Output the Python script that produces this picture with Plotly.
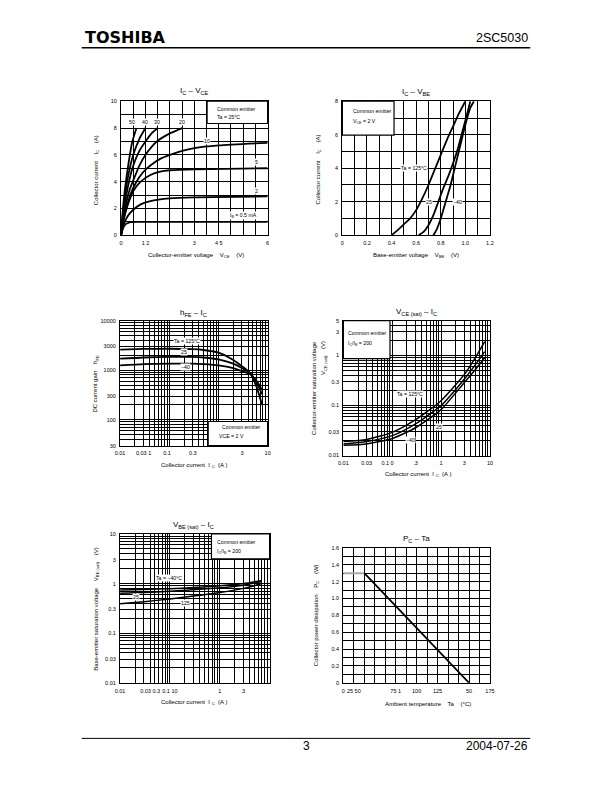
import numpy as np
import plotly.graph_objects as go

W, H = 612, 792

# ---------------- Chart 1: IC - VCE (Ta = 25 C) ----------------
vce_ib05 = [0, 0.05, 0.1, 0.2, 0.3, 0.4, 0.6, 1.0, 2, 4, 6]
ic_ib05 = [0, 0.35, 0.6, 0.85, 0.93, 0.97, 0.99, 1.0, 1.0, 1.0, 1.0]
vce_ib2 = [0, 0.05, 0.15, 0.3, 0.5, 0.8, 1.2, 2, 3, 6]
ic_ib2 = [0, 0.4, 1.0, 1.5, 1.9, 2.3, 2.55, 2.75, 2.83, 2.9]
vce_ib5 = [0, 0.05, 0.15, 0.3, 0.5, 0.8, 1.2, 1.6, 2, 3, 6]
ic_ib5 = [0, 0.6, 1.5, 2.4, 3.3, 4.0, 4.5, 4.75, 4.85, 4.92, 5.0]
vce_ib10 = [0, 0.05, 0.2, 0.4, 0.6, 0.9, 1.2, 1.6, 2, 2.5, 3, 4, 6]
ic_ib10 = [0, 0.7, 1.9, 3.1, 3.9, 4.7, 5.2, 5.7, 6.0, 6.3, 6.5, 6.7, 6.9]
vce_ib20 = [0, 0.05, 0.2, 0.35, 0.5, 0.75, 1.0, 1.25, 1.5, 2.0, 2.5]
ic_ib20 = [0, 0.8, 2.3, 3.4, 4.1, 5.2, 6.0, 6.6, 7.05, 7.6, 8.0]
vce_ib30 = [0, 0.05, 0.15, 0.3, 0.5, 0.75, 1.0, 1.25, 1.5]
ic_ib30 = [0, 1.0, 2.3, 3.8, 5.2, 6.3, 7.0, 7.6, 8.0]
vce_ib40 = [0, 0.05, 0.15, 0.3, 0.5, 0.75, 1.0]
ic_ib40 = [0, 1.2, 2.8, 4.5, 6.0, 7.2, 8.0]
vce_ib50 = [0, 0.05, 0.15, 0.3, 0.45, 0.63]
ic_ib50 = [0, 1.4, 3.3, 5.3, 6.9, 8.0]
c1_xtick_pos = [0, 1.0, 3, 4.0, 6]
c1_xtick_txt = ["0", "1 2", "3", "4 5", "6"]
c1_ytick_pos = [0, 2, 4, 6, 8, 10]
c1_ytick_txt = ["0", "2", "4", "6", "8", "10"]

# ---------------- Chart 2: IC - VBE (VCE = 2 V) ----------------
vbe_125 = [0.40, 0.45, 0.50, 0.55, 0.60, 0.65, 0.70, 0.75, 0.80, 0.85, 0.90, 0.95, 1.00]
ic_125 = [0, 0.3, 0.65, 1.0, 1.5, 2.2, 3.0, 3.9, 4.8, 5.7, 6.5, 7.3, 8.0]
vbe_25 = [0.62, 0.66, 0.70, 0.74, 0.78, 0.82, 0.86, 0.90, 0.94, 0.98, 1.02, 1.04]
ic_25 = [0, 0.2, 0.6, 1.2, 2.0, 2.8, 3.5, 4.3, 5.2, 6.3, 7.4, 8.0]
vbe_m40 = [0.74, 0.77, 0.80, 0.84, 0.88, 0.92, 0.96, 1.00, 1.04, 1.07]
ic_m40 = [0, 0.4, 1.0, 2.0, 3.0, 4.2, 5.4, 6.6, 7.6, 8.0]
c2_xtick_pos = [0, 0.2, 0.4, 0.6, 0.8, 1.0, 1.2]
c2_xtick_txt = ["0", "0.2", "0.4", "0.6", "0.8", "1.0", "1.2"]
c2_ytick_pos = [0, 2, 4, 6, 8]
c2_ytick_txt = ["0", "2", "4", "6", "8"]

# ---------------- Chart 3: hFE - IC (VCE = 2 V) ----------------
ic_hfe = [0.01, 0.03, 0.1, 0.3, 0.5, 1, 2, 3, 4.5, 6, 7.7]
hfe_125 = [2600, 2680, 2700, 2650, 2550, 2250, 1600, 1200, 850, 450, 200]
hfe_25 = [1700, 1800, 1850, 1850, 1800, 1650, 1350, 1100, 850, 550, 330]
hfe_m40 = [1250, 1320, 1350, 1350, 1320, 1250, 1100, 950, 820, 600, 400]
c3_xtick_pos = [0.01, 0.03, 0.09, 0.3, 3, 10]
c3_xtick_txt = ["0.01", "0.03 1", "0.1", "0.3", "3", "10"]
c3_ytick_pos = [30, 100, 300, 1000, 3000, 10000]
c3_ytick_txt = ["30", "100", "300", "1000", "3000", "10000"]

# ---------------- Chart 4: VCE(sat) - IC (IC/IB = 200) ----------------
ic_vcesat = [0.01, 0.03, 0.1, 0.3, 1, 3, 5, 7.8]
vcesat_125 = [0.019, 0.021, 0.029, 0.052, 0.125, 0.42, 0.9, 1.9]
vcesat_25 = [0.017, 0.019, 0.025, 0.043, 0.10, 0.34, 0.65, 1.2]
vcesat_m40 = [0.016, 0.017, 0.022, 0.036, 0.083, 0.29, 0.52, 0.9]
c4_xtick_pos = [0.01, 0.03, 0.08, 0.3, 1, 3, 10]
c4_xtick_txt = ["0.01", "0.03", "0.1 0", ".3", "1", "3", "10"]
c4_ytick_pos = [0.01, 0.03, 0.1, 0.3, 1, 3, 5]
c4_ytick_txt = ["0.01", "0.03", "0.1", "0.3", "1", "3", "5"]

# ---------------- Chart 5: VBE(sat) - IC (IC/IB = 200) ----------------
ic_vbesat = [0.01, 0.03, 0.1, 0.3, 1, 3, 7]
vbesat_m40 = [0.74, 0.76, 0.79, 0.83, 0.90, 1.0, 1.16]
vbesat_25 = [0.64, 0.66, 0.70, 0.75, 0.82, 0.93, 1.1]
vbesat_125 = [0.39, 0.43, 0.49, 0.56, 0.66, 0.80, 1.0]
c5_xtick_pos = [0.01, 0.04, 0.1, 1, 3]
c5_xtick_txt = ["0.01", "0.03 0.3", "0.1 10", "1", "3"]
c5_ytick_pos = [0.01, 0.03, 0.1, 0.3, 1, 3, 10]
c5_ytick_txt = ["0.01", "0.03", "0.1", "0.3", "1", "3", "10"]

# ---------------- Chart 6: PC - Ta ----------------
ta_flat = [0, 25]
pc_flat = [1.3, 1.3]
ta_derate = [25, 150]
pc_derate = [1.3, 0]
c6_xtick_pos = [0, 12.5, 62.5, 87.5, 112.5, 150, 175]
c6_xtick_txt = ["0", "25 50", "75 1", "100", "125", "50", "175"]
c6_ytick_pos = [0, 0.2, 0.4, 0.6, 0.8, 1.0, 1.2, 1.4, 1.6]
c6_ytick_txt = ["0", "0.2", "0.4", "0.6", "0.8", "1.0", "1.2", "1.4", "1.6"]

# ================= layout helpers =================
FONT = "Liberation Sans, Arial, sans-serif"
TICKF = dict(family=FONT, size=5.5, color="black")


def sfx(n):
    return "" if str(n) == "1" else str(n)


def px_dom_x(a, b):
    return [a / W, b / W]


def px_dom_y(top, bottom):
    return [1 - bottom / H, 1 - top / H]


def lin_grid(lo, hi, step):
    n = int(round((hi - lo) / step))
    return [round(lo + i * step, 6) for i in range(n + 1)]


def log_grid(lo, hi):
    vals = []
    for e in range(-3, 5):
        for k in range(1, 10):
            v = k * 10.0 ** e
            if lo * 0.9999 <= v <= hi * 1.0001:
                vals.append(v)
    return vals


def axis(dom, grid, pos, txt, log=False, rng=None):
    d = dict(domain=dom, showline=True, mirror=True, linecolor="black", linewidth=1.3,
             showgrid=True, gridcolor="black", gridwidth=1, zeroline=False,
             ticks="", tickmode="array", tickvals=pos, ticktext=txt, tickfont=TICKF,
             minor=dict(tickmode="array", tickvals=grid, showgrid=True,
                        gridcolor="black", gridwidth=1, ticks=""),
             fixedrange=True, ticklabelstandoff=2)
    if log:
        d["type"] = "log"
        d["range"] = [np.log10(rng[0]), np.log10(rng[1])]
    else:
        d["range"] = rng
    return d


fig = go.Figure()


def add(x, y, n, width=1.8, color="black", shape="spline"):
    line = dict(color=color, width=width, shape=shape)
    if shape == "spline":
        line["smoothing"] = 0.6
    fig.add_trace(go.Scatter(x=x, y=y, mode="lines", xaxis="x" + sfx(n), yaxis="y" + sfx(n),
                             line=line, showlegend=False, hoverinfo="skip"))


# chart 1
for xs, ys in [(vce_ib05, ic_ib05), (vce_ib2, ic_ib2), (vce_ib5, ic_ib5), (vce_ib10, ic_ib10),
               (vce_ib20, ic_ib20), (vce_ib30, ic_ib30), (vce_ib40, ic_ib40), (vce_ib50, ic_ib50)]:
    add(xs, ys, "1")
# chart 2
for xs, ys in [(vbe_125, ic_125), (vbe_25, ic_25), (vbe_m40, ic_m40)]:
    add(xs, ys, "2")
# chart 3
for ys in [hfe_125, hfe_25, hfe_m40]:
    add(ic_hfe, ys, "3")
# chart 4
for ys in [vcesat_125, vcesat_25, vcesat_m40]:
    add(ic_vcesat, ys, "4", width=1.5)
# chart 5
for ys in [vbesat_m40, vbesat_25, vbesat_125]:
    add(ic_vbesat, ys, "5", width=1.5)
# chart 6
add(ta_flat, pc_flat, "6", width=2, color="#a8a8a8", shape="linear")
add(ta_derate, pc_derate, "6", width=1.8, shape="linear")

g1x, g1y = lin_grid(0, 6, 0.5), lin_grid(0, 10, 1)
g2x, g2y = lin_grid(0, 1.2, 0.1), lin_grid(0, 8, 1)
g3x, g3y = log_grid(0.01, 10), log_grid(30, 10000)
g4x, g4y = log_grid(0.01, 10), log_grid(0.01, 5)
g5x, g5y = log_grid(0.01, 10), log_grid(0.01, 10)
g6x, g6y = lin_grid(0, 175, 12.5), lin_grid(0, 1.6, 0.1)

layout = dict(
    width=W, height=H, margin=dict(l=0, r=0, t=0, b=0),
    paper_bgcolor="white", plot_bgcolor="white", showlegend=False,
    font=dict(family=FONT, color="black"),
    xaxis=axis(px_dom_x(118, 267), g1x, c1_xtick_pos, c1_xtick_txt, rng=[0, 6]),
    yaxis=axis(px_dom_y(99, 234), g1y, c1_ytick_pos, c1_ytick_txt, rng=[0, 10]),
    xaxis2=axis(px_dom_x(343, 493), g2x, c2_xtick_pos, c2_xtick_txt, rng=[0, 1.2]),
    yaxis2=axis(px_dom_y(99, 234), g2y, c2_ytick_pos, c2_ytick_txt, rng=[0, 8]),
    xaxis3=axis(px_dom_x(117, 267), g3x, c3_xtick_pos, c3_xtick_txt, log=True, rng=[0.01, 10]),
    yaxis3=axis(px_dom_y(320, 446), g3y, c3_ytick_pos, c3_ytick_txt, log=True, rng=[30, 10000]),
    xaxis4=axis(px_dom_x(344, 493), g4x, c4_xtick_pos, c4_xtick_txt, log=True, rng=[0.01, 10]),
    yaxis4=axis(px_dom_y(320, 456), g4y, c4_ytick_pos, c4_ytick_txt, log=True, rng=[0.01, 5]),
    xaxis5=axis(px_dom_x(117, 269), g5x, c5_xtick_pos, c5_xtick_txt, log=True, rng=[0.01, 10]),
    yaxis5=axis(px_dom_y(535, 685), g5y, c5_ytick_pos, c5_ytick_txt, log=True, rng=[0.01, 10]),
    xaxis6=axis(px_dom_x(344, 493), g6x, c6_xtick_pos, c6_xtick_txt, rng=[0, 175]),
    yaxis6=axis(px_dom_y(549, 685), g6y, c6_ytick_pos, c6_ytick_txt, rng=[0, 1.6]),
)
for i in range(1, 7):
    xk = "xaxis" + sfx(i)
    yk = "yaxis" + sfx(i)
    layout[xk]["anchor"] = "y" + sfx(i)
    layout[yk]["anchor"] = "x" + sfx(i)
fig.update_layout(**layout)

ann = []
shapes = []


def ptext(x, y, text, size=6, angle=0, xanchor="center", family=FONT):
    ann.append(dict(x=x / W, y=1 - y / H, xref="paper", yref="paper", text=text,
                    showarrow=False, textangle=angle, xanchor=xanchor, yanchor="middle",
                    font=dict(family=family, size=size, color="black")))


def dtext(n, x, y, text, size=5.2, bg="white"):
    ann.append(dict(x=x, y=y, xref="x" + sfx(n), yref="y" + sfx(n), text=text, showarrow=False,
                    xanchor="center", yanchor="middle", bgcolor=bg, borderpad=0,
                    font=dict(family=FONT, size=size, color="black")))


def dom_text(n, x, y, text, size=5.2):
    ann.append(dict(x=x, y=y, xref="x%s domain" % sfx(n), yref="y%s domain" % sfx(n), text=text,
                    showarrow=False, xanchor="left", yanchor="middle",
                    font=dict(family=FONT, size=size, color="black")))


def box(n, x0, y0, x1, y1):
    shapes.append(dict(type="rect", xref="x%s domain" % sfx(n), yref="y%s domain" % sfx(n),
                       x0=x0, y0=y0, x1=x1, y1=y1, fillcolor="white",
                       line=dict(color="black", width=1.2), layer="above"))


# ---- page header / footer ----
ptext(79, 35, "<b>TOSHIBA</b>", size=16, xanchor="left", family="DejaVu Sans")
ptext(534, 35, "2SC5030", size=12.5, xanchor="right")
ptext(306, 749, "3", size=12)
ptext(534, 749, "2004-07-26", size=12, xanchor="right")
shapes.append(dict(type="line", xref="paper", yref="paper", x0=78 / W, x1=534 / W,
                   y0=1 - 45 / H, y1=1 - 45 / H, line=dict(color="black", width=1.5)))
shapes.append(dict(type="line", xref="paper", yref="paper", x0=78 / W, x1=534 / W,
                   y0=1 - 741 / H, y1=1 - 741 / H, line=dict(color="black", width=1)))

# ---- chart 1 ----
ptext(193, 89, "I<sub>C</sub> – V<sub>CE</sub>", size=8)
ptext(194, 254, "Collector-emitter voltage    V<sub>CE</sub>    (V)", size=6)
ptext(93, 168, "Collector current    I<sub>C</sub>    (A)", size=6, angle=-90)
box("1", 0.587, 0.834, 1.0, 1.0)
dom_text("1", 0.64, 0.945, "Common emitter")
dom_text("1", 0.64, 0.884, "Ta = 25°C")
for x, y, t in [(0.43, 8.47, "50"), (0.97, 8.47, "40"), (1.46, 8.47, "30"), (2.48, 8.47, "20"),
                (3.52, 7.05, "10"), (5.53, 5.45, "5"), (5.53, 3.27, "2"),
                (5.0, 1.46, "I<sub>B</sub> = 0.5 mA")]:
    dtext("1", x, y, t)

# ---- chart 2 ----
ptext(418, 90, "I<sub>C</sub> – V<sub>BE</sub>", size=8)
ptext(418, 254, "Base-emitter voltage    V<sub>BE</sub>    (V)", size=6)
ptext(319, 168, "Collector current    I<sub>C</sub>    (A)", size=6, angle=-90)
box("2", 0.0, 0.7475, 0.35, 1.0)
dom_text("2", 0.06, 0.929, "Common emitter")
dom_text("2", 0.06, 0.846, "V<sub>CE</sub> = 2 V")
for x, y, t in [(0.58, 4.0, "Ta = 125°C"), (0.704, 2.0, "25"), (0.94, 2.0, "−40")]:
    dtext("2", x, y, t)

# ---- chart 3 ----
ptext(192, 312, "h<sub>FE</sub> – I<sub>C</sub>", size=8)
ptext(192, 466, "Collector current  I <sub>C</sub>  (A )", size=6)
ptext(92, 383, "DC current gain    h<sub>FE</sub>", size=6, angle=-90)
box("3", 0.597, 0.0, 1.0, 0.193)
dom_text("3", 0.68, 0.145, "Common emitter")
dom_text("3", 0.66, 0.074, "VCE = 2 V")
for x, y, t in [(0.23, 3800, "Ta = 125°C"), (0.197, 2320, "25"), (0.212, 1160, "−40")]:
    dtext("3", np.log10(x), np.log10(y), t)

# ---- chart 4 ----
ptext(418, 311, "V<sub>CE (sat)</sub> – I<sub>C</sub>", size=8)
ptext(420, 475, "Collector current  I <sub>C</sub>  (A )", size=6)
ptext(314, 388, "Collector-emitter saturation voltage", size=6, angle=-90)
ptext(324, 358, "V<sub>CE (sat)</sub>    (V)", size=6, angle=-90)
box("4", 0.0, 0.718, 0.318, 1.0)
dom_text("4", 0.016, 0.909, "Common emitter")
dom_text("4", 0.016, 0.833, "I<sub>C</sub>/I<sub>B</sub> = 200")
for x, y, t in [(0.227, 0.17, "Ta = 125°C"), (0.91, 0.038, "25"), (0.238, 0.0207, "−40")]:
    dtext("4", np.log10(x), np.log10(y), t)

# ---- chart 5 ----
ptext(192, 526, "V<sub>BE (sat)</sub> – I<sub>C</sub>", size=8)
ptext(192, 705, "Collector current  I <sub>C</sub>  (A )", size=6)
ptext(93, 610, "Base-emitter saturation voltage    V<sub>BE (sat)</sub>    (V)", size=6, angle=-90)
box("5", 0.611, 0.833, 1.0, 1.0)
dom_text("5", 0.633, 0.944, "Common emitter")
dom_text("5", 0.633, 0.884, "I<sub>C</sub>/I<sub>B</sub> = 200")
for x, y, t in [(0.096, 1.3, "Ta = −40°C"), (0.021, 0.54, "25"), (0.205, 0.40, "125")]:
    dtext("5", np.log10(x), np.log10(y), t)

# ---- chart 6 ----
ptext(418, 540, "P<sub>C</sub> – Ta", size=8)
ptext(430, 706, "Ambient temperature    Ta    (°C)", size=6)
ptext(316, 617, "Collector power dissipation    P<sub>C</sub>    (W)", size=6, angle=-90)

fig.update_layout(annotations=ann, shapes=shapes)
fig.write_html("out.html", config={"displayModeBar": False},
               post_script="document.body.style.margin='0px';")
